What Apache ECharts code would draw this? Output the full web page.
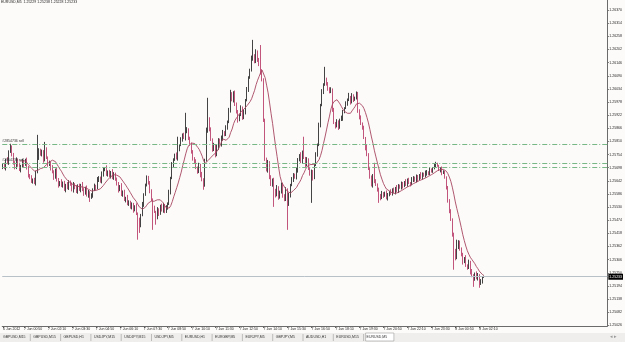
<!DOCTYPE html>
<html><head><meta charset="utf-8">
<script src="https://cdn.jsdelivr.net/npm/echarts@6/dist/echarts.min.js"></script>
<style>html,body{margin:0;padding:0;background:#fdfbfa;overflow:hidden}#c{width:625px;height:342px}</style>
</head><body><div id="c"></div>
<script>
// EURUSD M5 bars: [open, close, low, high]
const ohlc = [
[1.25700,1.25710,1.25692,1.25716],[1.25710,1.25697,1.25692,1.25719],[1.25697,1.25731,1.25686,1.25735],[1.25731,1.25719,1.25713,1.25743],[1.25719,1.25765,1.25710,1.25772],
[1.25765,1.25783,1.25761,1.25800],[1.25783,1.25753,1.25746,1.25793],[1.25753,1.25723,1.25711,1.25761],[1.25723,1.25697,1.25691,1.25726],[1.25697,1.25731,1.25692,1.25742],
[1.25731,1.25710,1.25702,1.25737],[1.25710,1.25689,1.25684,1.25719],[1.25689,1.25706,1.25678,1.25710],[1.25706,1.25723,1.25700,1.25735],[1.25723,1.25710,1.25701,1.25730],
[1.25710,1.25731,1.25706,1.25736],[1.25731,1.25697,1.25690,1.25741],[1.25697,1.25668,1.25656,1.25705],[1.25668,1.25655,1.25649,1.25671],[1.25655,1.25638,1.25633,1.25666],
[1.25638,1.25646,1.25630,1.25652],[1.25646,1.25633,1.25628,1.25655],[1.25633,1.25680,1.25622,1.25684],[1.25680,1.25740,1.25674,1.25838],[1.25740,1.25774,1.25731,1.25781],
[1.25774,1.25753,1.25749,1.25779],[1.25753,1.25765,1.25746,1.25775],[1.25765,1.25731,1.25719,1.25773],[1.25731,1.25774,1.25725,1.25808],[1.25774,1.25740,1.25735,1.25785],
[1.25740,1.25710,1.25702,1.25746],[1.25710,1.25719,1.25705,1.25728],[1.25719,1.25697,1.25686,1.25723],[1.25697,1.25680,1.25674,1.25709],[1.25680,1.25655,1.25646,1.25687],
[1.25655,1.25689,1.25651,1.25694],[1.25689,1.25646,1.25639,1.25699],[1.25646,1.25625,1.25613,1.25654],[1.25625,1.25638,1.25619,1.25641],[1.25638,1.25621,1.25616,1.25649],
[1.25621,1.25633,1.25613,1.25639],[1.25633,1.25604,1.25599,1.25642],[1.25604,1.25625,1.25593,1.25629],[1.25625,1.25612,1.25606,1.25637],[1.25612,1.25638,1.25603,1.25645],
[1.25638,1.25625,1.25621,1.25643],[1.25625,1.25604,1.25597,1.25635],[1.25604,1.25629,1.25592,1.25637],[1.25629,1.25612,1.25606,1.25632],[1.25612,1.25595,1.25590,1.25623],
[1.25595,1.25621,1.25587,1.25627],[1.25621,1.25604,1.25599,1.25630],[1.25604,1.25625,1.25593,1.25629],[1.25625,1.25604,1.25598,1.25637],[1.25604,1.25587,1.25578,1.25611],
[1.25587,1.25612,1.25583,1.25617],[1.25612,1.25582,1.25575,1.25622],[1.25582,1.25595,1.25570,1.25603],[1.25595,1.25570,1.25552,1.25598],[1.25570,1.25578,1.25565,1.25589],
[1.25578,1.25604,1.25570,1.25610],[1.25604,1.25621,1.25599,1.25630],[1.25621,1.25612,1.25601,1.25625],[1.25612,1.25646,1.25606,1.25658],[1.25646,1.25655,1.25637,1.25662],
[1.25655,1.25638,1.25634,1.25660],[1.25638,1.25672,1.25631,1.25682],[1.25672,1.25689,1.25660,1.25697],[1.25689,1.25697,1.25683,1.25700],[1.25697,1.25668,1.25663,1.25708],
[1.25668,1.25680,1.25660,1.25686],[1.25680,1.25663,1.25658,1.25689],[1.25663,1.25680,1.25652,1.25684],[1.25680,1.25655,1.25649,1.25692],[1.25655,1.25672,1.25646,1.25679],
[1.25672,1.25646,1.25642,1.25677],[1.25646,1.25629,1.25622,1.25656],[1.25629,1.25604,1.25592,1.25637],[1.25604,1.25621,1.25598,1.25624],[1.25621,1.25582,1.25577,1.25632],
[1.25582,1.25595,1.25574,1.25601],[1.25595,1.25561,1.25556,1.25604],[1.25561,1.25570,1.25550,1.25574],[1.25570,1.25544,1.25538,1.25582],[1.25544,1.25552,1.25535,1.25559],
[1.25552,1.25527,1.25523,1.25557],[1.25527,1.25540,1.25520,1.25550],[1.25540,1.25518,1.25506,1.25548],[1.25518,1.25535,1.25512,1.25538],[1.25535,1.25501,1.25496,1.25546],
[1.25501,1.25476,1.25391,1.25507],[1.25476,1.25455,1.25420,1.25485],[1.25455,1.25497,1.25444,1.25501],[1.25497,1.25540,1.25491,1.25552],[1.25540,1.25582,1.25531,1.25589],
[1.25582,1.25625,1.25578,1.25630],[1.25625,1.25655,1.25618,1.25665],[1.25655,1.25638,1.25626,1.25663],[1.25638,1.25595,1.25589,1.25641],[1.25595,1.25561,1.25556,1.25606],
[1.25561,1.25527,1.25433,1.25567],[1.25527,1.25510,1.25505,1.25536],[1.25510,1.25484,1.25455,1.25514],[1.25484,1.25518,1.25478,1.25530],[1.25518,1.25501,1.25492,1.25525],
[1.25501,1.25535,1.25497,1.25540],[1.25535,1.25518,1.25511,1.25545],[1.25518,1.25540,1.25506,1.25548],[1.25540,1.25510,1.25504,1.25543],[1.25510,1.25527,1.25505,1.25538],
[1.25527,1.25544,1.25519,1.25550],[1.25544,1.25595,1.25539,1.25604],[1.25595,1.25655,1.25584,1.25659],[1.25655,1.25710,1.25649,1.25722],[1.25710,1.25731,1.25701,1.25738],
[1.25731,1.25753,1.25727,1.25758],[1.25753,1.25740,1.25733,1.25763],[1.25740,1.25774,1.25728,1.25830],[1.25774,1.25795,1.25768,1.25798],[1.25795,1.25817,1.25790,1.25828],
[1.25817,1.25838,1.25809,1.25844],[1.25838,1.25825,1.25820,1.25847],[1.25825,1.25851,1.25814,1.25932],[1.25851,1.25859,1.25845,1.25871],[1.25859,1.25825,1.25816,1.25866],
[1.25825,1.25795,1.25791,1.25830],[1.25795,1.25765,1.25758,1.25805],[1.25765,1.25740,1.25728,1.25773],[1.25740,1.25723,1.25717,1.25743],[1.25723,1.25697,1.25692,1.25734],
[1.25697,1.25680,1.25672,1.25703],[1.25680,1.25710,1.25675,1.25719],[1.25710,1.25668,1.25657,1.25714],[1.25668,1.25646,1.25640,1.25680],[1.25646,1.25621,1.25604,1.25653],
[1.25621,1.25731,1.25617,1.25736],[1.25731,1.25859,1.25724,1.25869],[1.25859,1.25910,1.25847,1.25996],[1.25910,1.25859,1.25853,1.25913],[1.25859,1.25817,1.25812,1.25870],
[1.25817,1.25774,1.25766,1.25823],[1.25774,1.25795,1.25769,1.25804],[1.25795,1.25753,1.25742,1.25799],[1.25753,1.25783,1.25747,1.25795],[1.25783,1.25817,1.25774,1.25824],
[1.25817,1.25795,1.25791,1.25822],[1.25795,1.25825,1.25788,1.25835],[1.25825,1.25851,1.25813,1.25859],[1.25851,1.25838,1.25832,1.25854],[1.25838,1.25868,1.25833,1.25879],
[1.25868,1.25893,1.25860,1.25899],[1.25893,1.25944,1.25888,1.25953],[1.25944,1.26008,1.25933,1.26030],[1.26008,1.25987,1.25981,1.26020],[1.25987,1.26021,1.25976,1.26024],
[1.26021,1.25966,1.25961,1.26027],[1.25966,1.25936,1.25929,1.25976],[1.25936,1.25902,1.25890,1.25944],[1.25902,1.25923,1.25896,1.25926],[1.25923,1.25953,1.25918,1.25964],
[1.25953,1.25910,1.25902,1.25959],[1.25910,1.25936,1.25905,1.25945],[1.25936,1.25987,1.25925,1.25991],[1.25987,1.26030,1.25981,1.26042],[1.26030,1.26081,1.26021,1.26088],
[1.26081,1.26115,1.26077,1.26120],[1.26115,1.26166,1.26108,1.26176],[1.26166,1.26179,1.26154,1.26243],[1.26179,1.26149,1.26143,1.26182],[1.26149,1.26192,1.26144,1.26203],
[1.26192,1.26157,1.26149,1.26198],[1.26157,1.26136,1.26131,1.26166],[1.26136,1.26106,1.26095,1.26221],[1.26106,1.26072,1.26066,1.26118],[1.26072,1.25902,1.25893,1.26079],
[1.25902,1.25731,1.25727,1.25907],[1.25731,1.25689,1.25682,1.25741],[1.25689,1.25723,1.25677,1.25731],[1.25723,1.25655,1.25649,1.25726],[1.25655,1.25625,1.25620,1.25666],
[1.25625,1.25646,1.25617,1.25652],[1.25646,1.25604,1.25531,1.25655],[1.25604,1.25582,1.25571,1.25608],[1.25582,1.25612,1.25576,1.25624],[1.25612,1.25570,1.25561,1.25619],
[1.25570,1.25595,1.25566,1.25600],[1.25595,1.25625,1.25588,1.25635],[1.25625,1.25582,1.25570,1.25633],[1.25582,1.25561,1.25555,1.25585],[1.25561,1.25604,1.25556,1.25615],
[1.25604,1.25540,1.25433,1.25610],[1.25540,1.25582,1.25535,1.25591],[1.25582,1.25625,1.25571,1.25629],[1.25625,1.25646,1.25619,1.25658],[1.25646,1.25668,1.25637,1.25675],
[1.25668,1.25655,1.25651,1.25673],[1.25655,1.25689,1.25648,1.25699],[1.25689,1.25731,1.25677,1.25739],[1.25731,1.25753,1.25725,1.25756],[1.25753,1.25723,1.25718,1.25764],
[1.25723,1.25765,1.25715,1.25771],[1.25765,1.25740,1.25735,1.25830],[1.25740,1.25710,1.25699,1.25744],[1.25710,1.25731,1.25704,1.25743],[1.25731,1.25697,1.25688,1.25738],
[1.25697,1.25668,1.25664,1.25702],[1.25668,1.25680,1.25548,1.25690],[1.25680,1.25655,1.25643,1.25688],[1.25655,1.25710,1.25649,1.25713],[1.25710,1.25753,1.25705,1.25764],
[1.25753,1.25795,1.25745,1.25801],[1.25795,1.25881,1.25790,1.25890],[1.25881,1.25966,1.25870,1.25970],[1.25966,1.26021,1.25960,1.26033],[1.26021,1.26051,1.26012,1.26058],
[1.26051,1.26072,1.26047,1.26128],[1.26072,1.26055,1.26048,1.26082],[1.26055,1.26038,1.26026,1.26063],[1.26038,1.26021,1.26015,1.26041],[1.26021,1.26030,1.26016,1.26041],
[1.26030,1.25944,1.25936,1.26036],[1.25944,1.25889,1.25884,1.25953],[1.25889,1.25876,1.25865,1.25893],[1.25876,1.25893,1.25870,1.25905],[1.25893,1.25868,1.25859,1.25900],
[1.25868,1.25902,1.25864,1.25907],[1.25902,1.25910,1.25897,1.25920],[1.25910,1.25936,1.25898,1.25944],[1.25936,1.25953,1.25930,1.25956],[1.25953,1.25970,1.25948,1.25981],
[1.25970,1.25987,1.25962,1.25993],[1.25987,1.26000,1.25982,1.26017],[1.26000,1.25978,1.25967,1.26004],[1.25978,1.26004,1.25972,1.26016],[1.26004,1.25987,1.25978,1.26011],
[1.25987,1.25996,1.25983,1.26001],[1.25996,1.26013,1.25989,1.26023],[1.26013,1.25944,1.25932,1.26021],[1.25944,1.25910,1.25904,1.25947],[1.25910,1.25885,1.25880,1.25921],
[1.25885,1.25868,1.25860,1.25891],[1.25868,1.25825,1.25820,1.25877],[1.25825,1.25783,1.25772,1.25829],[1.25783,1.25753,1.25747,1.25795],[1.25753,1.25697,1.25688,1.25760],
[1.25697,1.25655,1.25651,1.25702],[1.25655,1.25625,1.25618,1.25665],[1.25625,1.25663,1.25613,1.25671],[1.25663,1.25638,1.25632,1.25719],[1.25638,1.25625,1.25620,1.25649],
[1.25625,1.25604,1.25596,1.25631],[1.25604,1.25582,1.25548,1.25613],[1.25582,1.25570,1.25559,1.25586],[1.25570,1.25587,1.25564,1.25599],[1.25587,1.25578,1.25569,1.25594],
[1.25578,1.25591,1.25574,1.25596],[1.25591,1.25570,1.25563,1.25601],[1.25570,1.25582,1.25558,1.25590],[1.25582,1.25595,1.25576,1.25598],[1.25595,1.25587,1.25582,1.25606],
[1.25587,1.25604,1.25579,1.25610],[1.25604,1.25595,1.25590,1.25613],[1.25595,1.25612,1.25584,1.25616],[1.25612,1.25599,1.25593,1.25624],[1.25599,1.25621,1.25590,1.25628],
[1.25621,1.25612,1.25608,1.25626],[1.25612,1.25629,1.25605,1.25639],[1.25629,1.25621,1.25609,1.25637],[1.25621,1.25638,1.25615,1.25641],[1.25638,1.25625,1.25620,1.25649],
[1.25625,1.25646,1.25617,1.25652],[1.25646,1.25633,1.25628,1.25655],[1.25633,1.25629,1.25618,1.25637],[1.25629,1.25646,1.25623,1.25658],[1.25646,1.25655,1.25637,1.25662],
[1.25655,1.25642,1.25638,1.25660],[1.25642,1.25659,1.25635,1.25669],[1.25659,1.25650,1.25638,1.25667],[1.25650,1.25668,1.25644,1.25671],[1.25668,1.25655,1.25650,1.25679],
[1.25655,1.25672,1.25647,1.25678],[1.25672,1.25663,1.25659,1.25677],[1.25663,1.25676,1.25656,1.25686],[1.25676,1.25680,1.25664,1.25688],[1.25680,1.25672,1.25666,1.25683],
[1.25672,1.25689,1.25667,1.25700],[1.25689,1.25685,1.25677,1.25695],[1.25685,1.25697,1.25676,1.25701],[1.25697,1.25706,1.25691,1.25718],[1.25706,1.25714,1.25697,1.25723],
[1.25714,1.25706,1.25702,1.25719],[1.25706,1.25689,1.25684,1.25710],[1.25689,1.25697,1.25678,1.25700],[1.25697,1.25672,1.25666,1.25703],[1.25672,1.25680,1.25671,1.25687],
[1.25680,1.25655,1.25651,1.25685],[1.25655,1.25612,1.25605,1.25661],[1.25612,1.25561,1.25549,1.25620],[1.25561,1.25510,1.25504,1.25564],[1.25510,1.25476,1.25471,1.25521],
[1.25476,1.25412,1.25404,1.25482],[1.25412,1.25348,1.25263,1.25421],[1.25348,1.25314,1.25303,1.25352],[1.25314,1.25357,1.25308,1.25391],[1.25357,1.25382,1.25351,1.25389],
[1.25382,1.25348,1.25344,1.25387],[1.25348,1.25327,1.25320,1.25358],[1.25327,1.25297,1.25285,1.25335],[1.25297,1.25314,1.25291,1.25317],[1.25314,1.25280,1.25275,1.25325],
[1.25280,1.25271,1.25263,1.25286],[1.25271,1.25297,1.25266,1.25306],[1.25297,1.25254,1.25243,1.25301],[1.25254,1.25237,1.25231,1.25266],[1.25237,1.25220,1.25190,1.25244],
[1.25220,1.25246,1.25216,1.25251],[1.25246,1.25229,1.25222,1.25256],[1.25229,1.25241,1.25217,1.25249],[1.25241,1.25203,1.25186,1.25244],[1.25203,1.25212,1.25198,1.25223],
[1.25212,1.25229,1.25204,1.25235],[1.25229,1.25233,1.25228,1.25238]
];
const priceTicks = [1.26370,1.26314,1.26258,1.26202,1.26146,1.26090,1.26034,1.25978,1.25922,1.25866,1.25810,1.25754,1.25698,1.25642,1.25586,1.25530,1.25474,1.25418,1.25362,1.25306,1.25250,1.25194,1.25138,1.25082,1.25026];
const timeTickLabels = ['6 Jun 2012','7 Jun 00:50','7 Jun 02:10','7 Jun 03:30','7 Jun 04:50','7 Jun 06:10','7 Jun 07:30','7 Jun 08:50','7 Jun 10:10','7 Jun 11:30','7 Jun 12:50','7 Jun 14:10','7 Jun 15:30','7 Jun 16:50','7 Jun 18:10','7 Jun 19:30','7 Jun 20:50','7 Jun 22:10','7 Jun 23:30','8 Jun 00:50','8 Jun 02:10'];
const orderLevels = [1.25798, 1.25718, 1.25702];
const orderLabels = ['#2854736 sell', '#2854736 sell', ''];
const tabNames = ['GBPUSD,M15','GBPUSD,M15','GBPUSD,H1','USDJPY,M15','USDJPY,M15','USDJPY,M5','EURUSD,H1','EURGBP,M5','EURJPY,M5','GBPJPY,M5','AUDUSD,H1','EURUSD,M15','EURUSD,M5'];
const symbolName = 'EURUSD,M5';
const maPeriod = 12;

// axis layout
const totalSlots = 404;       // bars + empty right shift
const firstTimeTick = 14;     // bar index of the first hourly tick
const barsPerTick = 16;

const cats = Array.from({length: totalSlots}, (_, i) => String(i));
const closes = ohlc.map(r => r[1]);
const ma = closes.map((c, i) => {
  if (i < maPeriod - 1) return '-';
  let s = 0; for (let k = i - maPeriod + 1; k <= i; k++) s += closes[k];
  return +(s / maPeriod).toFixed(5);
});
const last = ohlc[ohlc.length - 1];
const bid = last[1];

function tickIndex(i) {
  if (i === 0) return 0;
  if (i < firstTimeTick) return -1;
  if ((i - firstTimeTick) % barsPerTick !== 0) return -1;
  const k = (i - firstTimeTick) / barsPerTick + 1;
  return k < timeTickLabels.length ? k : -1;
}

const FONT = 'Liberation Sans';
const TXT = '#1e1e1e';
const GREEN = '#78b886';
const chart = echarts.init(document.getElementById('c'), null, {renderer: 'canvas'});

const orderLines = orderLevels.map((v, i) => ({
  yAxis: v,
  lineStyle: {color: GREEN, type: [5, 2, 1, 2], width: 1, opacity: 1},
  label: {show: !!orderLabels[i], position: 'insideStartTop', formatter: orderLabels[i], fontSize: 3.5, color: '#333', fontFamily: FONT, distance: [0, 1]}
}));

const tabW = 30.3;
const graphics = [
  {type: 'text', left: 1, top: 0, style: {text: symbolName + '  ' + last[0].toFixed(5) + ' ' + last[3].toFixed(5) + ' ' + last[2].toFixed(5) + ' ' + last[1].toFixed(5), fontSize: 3.5, fontFamily: FONT, fill: TXT}},
  {type: 'rect', shape: {x: 0, y: 333, width: 625, height: 9}, style: {fill: '#efeeec'}},
  {type: 'rect', shape: {x: (tabNames.length - 1) * tabW + 2, y: 333, width: tabW - 2, height: 8}, style: {fill: '#ffffff', stroke: '#9a9a9a', lineWidth: 0.6}}
];
tabNames.forEach((n, i) => {
  graphics.push({type: 'text', x: i * tabW + 3, y: 335, style: {text: n, fontSize: 3.5, fontFamily: FONT, fill: '#333'}});
  if (i < tabNames.length - 1) graphics.push({type: 'line', shape: {x1: (i + 1) * tabW, y1: 334, x2: (i + 1) * tabW, y2: 341}, style: {stroke: '#9a9a9a', lineWidth: 0.6}});
});
graphics.push({type: 'text', x: 610, y: 334.5, style: {text: '◂ ▸', fontSize: 5, fill: '#999'}});

chart.setOption({
  animation: false,
  backgroundColor: '#fdfbfa',
  grid: {left: 0, right: 14, top: 0, bottom: 16, containLabel: false},
  xAxis: {
    type: 'category', data: cats, boundaryGap: true,
    axisLine: {show: true, lineStyle: {color: '#6b6b6b', width: 1}},
    axisTick: {show: true, alignWithLabel: true, length: 2, interval: (i) => tickIndex(i) >= 0, lineStyle: {color: '#6b6b6b'}},
    axisLabel: {show: true, interval: (i) => tickIndex(i) >= 0, formatter: (v, i) => { const k = tickIndex(i); return k >= 0 ? timeTickLabels[k] : ''; },
      align: 'left', margin: 1.5, fontSize: 3.5, fontFamily: FONT, color: TXT},
    splitLine: {show: false}
  },
  yAxis: {
    type: 'value', position: 'right', min: 1.25023, max: 1.26413, scale: true,
    axisLine: {show: true, lineStyle: {color: '#6b6b6b', width: 1}},
    axisTick: {show: true, length: 1.5, customValues: priceTicks, lineStyle: {color: '#6b6b6b'}},
    axisLabel: {show: true, customValues: priceTicks, formatter: (v) => v.toFixed(5), margin: 2, fontSize: 3.5, fontFamily: FONT, color: TXT},
    splitLine: {show: false}
  },
  graphic: graphics,
  series: [
    {
      type: 'line', data: [], z: 1, silent: true,
      markLine: {
        symbol: 'none', silent: true, animation: false, precision: 5,
        lineStyle: {color: GREEN, type: [5, 2, 1, 2], width: 1},
        emphasis: {disabled: true},
        data: orderLines.concat([{
          yAxis: bid,
          lineStyle: {color: '#b8c0c8', type: 'solid', width: 1},
          label: {show: true, position: 'end', formatter: bid.toFixed(5), backgroundColor: '#000', color: '#fff', fontSize: 3.5, fontFamily: FONT, padding: [1, 1], distance: 1}
        }])
      }
    },
    {
      type: 'candlestick', data: ohlc, barWidth: 1, z: 2,
      itemStyle: {color: '#151515', color0: '#b22b5c', borderColor: '#151515', borderColor0: '#b22b5c', borderWidth: 0.8}
    },
    {
      type: 'line', data: ma, showSymbol: false, smooth: false,
      lineStyle: {color: '#a64560', width: 0.9}, z: 3
    }
  ]
});
</script></body></html>
